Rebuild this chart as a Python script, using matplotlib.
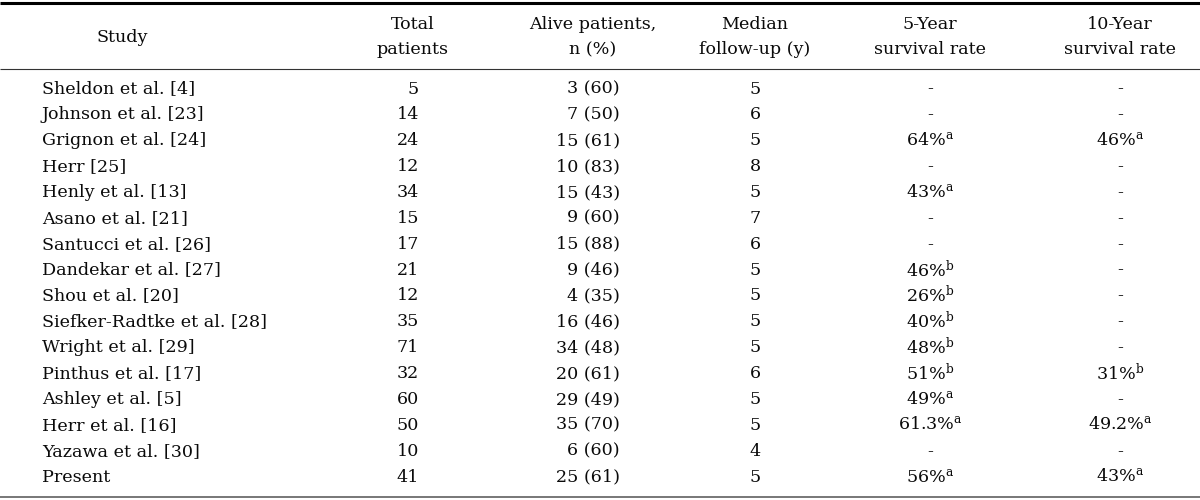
import matplotlib
matplotlib.use('Agg')
import matplotlib.pyplot as plt

# table data
studies = ['Sheldon et al. [4]', 'Johnson et al. [23]', 'Grignon et al. [24]', 'Herr [25]',
           'Henly et al. [13]', 'Asano et al. [21]', 'Santucci et al. [26]', 'Dandekar et al. [27]',
           'Shou et al. [20]', 'Siefker-Radtke et al. [28]', 'Wright et al. [29]',
           'Pinthus et al. [17]', 'Ashley et al. [5]', 'Herr et al. [16]', 'Yazawa et al. [30]',
           'Present']
total = [5, 14, 24, 12, 34, 15, 17, 21, 12, 35, 71, 32, 60, 50, 10, 41]
alive = [3, 7, 15, 10, 15, 9, 15, 9, 4, 16, 34, 20, 29, 35, 6, 25]
alive_pct = [60, 50, 61, 83, 43, 60, 88, 46, 35, 46, 48, 61, 49, 70, 60, 61]
followup = [5, 6, 5, 8, 5, 7, 6, 5, 5, 5, 5, 6, 5, 5, 4, 5]
surv5 = ['-', '-', '64%', '-', '43%', '-', '-', '46%', '26%', '40%', '48%', '51%', '49%',
         '61.3%', '-', '56%']
surv5_note = ['', '', 'a', '', 'a', '', '', 'b', 'b', 'b', 'b', 'b', 'a', 'a', '', 'a']
surv10 = ['-', '-', '46%', '-', '-', '-', '-', '-', '-', '-', '-', '31%', '-', '49.2%', '-', '43%']
surv10_note = ['', '', 'a', '', '', '', '', '', '', '', '', 'b', '', 'a', '', 'a']

headers = ['Study', 'Total\npatients', 'Alive patients,\nn (%)', 'Median\nfollow-up (y)',
           '5-Year\nsurvival rate', '10-Year\nsurvival rate']

plt.rcParams['font.family'] = ['DejaVu Serif']
plt.rcParams['mathtext.fontset'] = 'dejavuserif'

fig = plt.figure(figsize=(12, 5), dpi=100)
ax = fig.add_axes([0, 0, 1, 1])
ax.set_xlim(0, 1200)
ax.set_ylim(500, 0)
ax.axis('off')

fs = 12.6
col = '#0a0a0a'

# rules
ax.hlines(3, 0, 1200, color='black', lw=2.2)
ax.hlines(69, 0, 1200, color='#333333', lw=0.8)
ax.hlines(497, 0, 1200, color='#777777', lw=1.4)

# header
hx = [122, 413, 593, 755, 930, 1120]
for x, h in zip(hx, headers):
    ax.text(x, 37, h, ha='center', va='center', fontsize=fs, color=col, linespacing=1.6)

def with_note(v, n):
    if v == '-' or n == '':
        return v
    return v + r'$^{\mathrm{' + n + '}}$'

for i in range(len(studies)):
    y = 89 + 25.87 * i
    ax.text(42, y, studies[i], ha='left', va='center', fontsize=fs, color=col)
    ax.text(419, y, str(total[i]), ha='right', va='center', fontsize=fs, color=col)
    ax.text(620, y, '%d (%d)' % (alive[i], alive_pct[i]), ha='right', va='center',
            fontsize=fs, color=col)
    ax.text(755, y, str(followup[i]), ha='center', va='center', fontsize=fs, color=col)
    ax.text(930, y, with_note(surv5[i], surv5_note[i]), ha='center', va='center',
            fontsize=fs, color=col)
    ax.text(1120, y, with_note(surv10[i], surv10_note[i]), ha='center', va='center',
            fontsize=fs, color=col)

fig.savefig('out.png', dpi=100)
